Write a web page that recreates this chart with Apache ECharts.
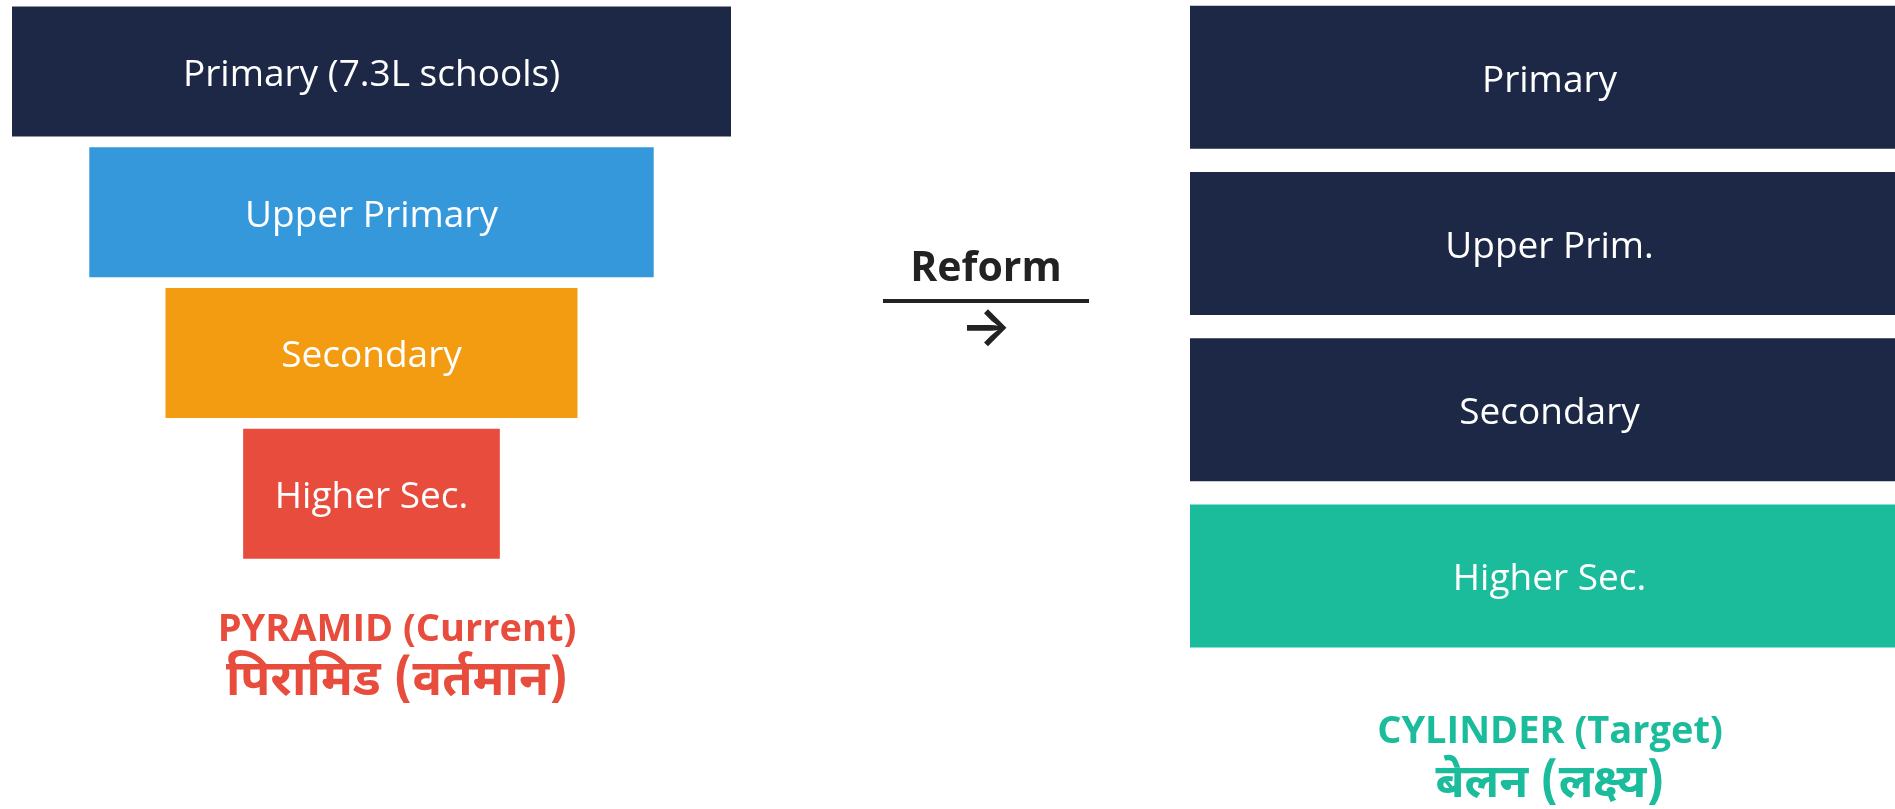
<!DOCTYPE html>
<html>
<head>
<meta charset="utf-8">
<script src="https://cdn.jsdelivr.net/npm/echarts@6.0.0/dist/echarts.min.js"></script>
</head>
<body style="margin:0; background:#fff">
<div id="container" style="width:1895px; height:809px"></div>
<script>
// school levels, current (pyramid) vs target (cylinder)
var pyramidLevels = ['Primary (7.3L schools)', 'Upper Primary', 'Secondary', 'Higher Sec.'];
var pyramidWidth = [100, 78.5, 57.3, 35.7];
var pyramidColors = ['#1c2846', '#3498db', '#f39c12', '#e74c3c'];

var cylinderLevels = ['Primary', 'Upper Prim.', 'Secondary', 'Higher Sec.'];
var cylinderWidth = [100, 100, 100, 100];
var cylinderColors = ['#1c2846', '#1c2846', '#1c2846', '#1abc9c'];

var titles = [
  { text: 'PYRAMID (Current)', sub: 'पिरामिड (वर्तमान)', color: '#e74c3c' },
  { text: 'CYLINDER (Target)', sub: 'बेलन (लक्ष्य)', color: '#1abc9c' }
];

var hindiFont = '"Noto Sans Devanagari", "Noto Sans", "Open Sans", sans-serif';
var barLabel = {
  show: true,
  position: 'inside',
  formatter: '{b}',
  color: '#fff',
  fontFamily: '"Open Sans"',
  fontSize: 37,
  offset: [0, 4]
};

var dom = document.getElementById('container');
var myChart = echarts.init(dom, null, { renderer: 'canvas' });

var option = {
  animation: false,
  title: [
    {
      text: titles[0].text, subtext: titles[0].sub,
      left: 397, top: 611, padding: 0, itemGap: 12,
      textAlign: 'center', textVerticalAlign: 'top',
      textStyle: { color: titles[0].color, fontFamily: '"Open Sans"', fontWeight: 'bold', fontSize: 38 },
      subtextStyle: { color: titles[0].color, fontFamily: hindiFont, fontWeight: 'bold', fontSize: 49 }
    },
    {
      text: titles[1].text, subtext: titles[1].sub,
      left: 1550, top: 713, padding: 0, itemGap: 14,
      textAlign: 'center', textVerticalAlign: 'top',
      textStyle: { color: titles[1].color, fontFamily: '"Open Sans"', fontWeight: 'bold', fontSize: 38 },
      subtextStyle: { color: titles[1].color, fontFamily: hindiFont, fontWeight: 'bold', fontSize: 47 }
    }
  ],
  graphic: [
    {
      type: 'text', x: 986, y: 249,
      style: { text: 'Reform', font: 'bold 41px "Open Sans"', fill: '#222', align: 'center', verticalAlign: 'top' }
    },
    {
      type: 'line',
      shape: { x1: 883, y1: 301, x2: 1089, y2: 301 },
      style: { stroke: '#222', lineWidth: 4 }
    },
    {
      type: 'text', x: 986, y: 329,
      style: { text: '→', font: '600 54px Inter', fill: '#222', align: 'center', verticalAlign: 'middle' }
    }
  ],
  grid: [
    { left: 12, top: 1, width: 719, height: 563, outerBoundsMode: 'none' },
    { left: 1190, top: -6, width: 719, height: 665, outerBoundsMode: 'none' }
  ],
  xAxis: [
    { gridIndex: 0, type: 'value', min: 0, max: 100, show: false },
    { gridIndex: 1, type: 'value', min: 0, max: 100, show: false }
  ],
  yAxis: [
    { gridIndex: 0, type: 'category', data: pyramidLevels, inverse: true, show: false },
    { gridIndex: 1, type: 'category', data: cylinderLevels, inverse: true, show: false }
  ],
  series: [
    {
      // invisible spacer to centre each pyramid bar
      type: 'bar', stack: 'pyr', xAxisIndex: 0, yAxisIndex: 0, barWidth: 130, silent: true,
      itemStyle: { color: 'transparent' },
      data: pyramidWidth.map(function (v) { return (100 - v) / 2; })
    },
    {
      type: 'bar', stack: 'pyr', xAxisIndex: 0, yAxisIndex: 0, barWidth: 130,
      label: barLabel,
      data: pyramidWidth.map(function (v, i) { return { value: v, itemStyle: { color: pyramidColors[i] } }; })
    },
    {
      type: 'bar', xAxisIndex: 1, yAxisIndex: 1, barWidth: 143,
      label: barLabel,
      data: cylinderWidth.map(function (v, i) { return { value: v, itemStyle: { color: cylinderColors[i] } }; })
    }
  ]
};

myChart.setOption(option);
window.addEventListener('resize', myChart.resize);
</script>
</body>
</html>
